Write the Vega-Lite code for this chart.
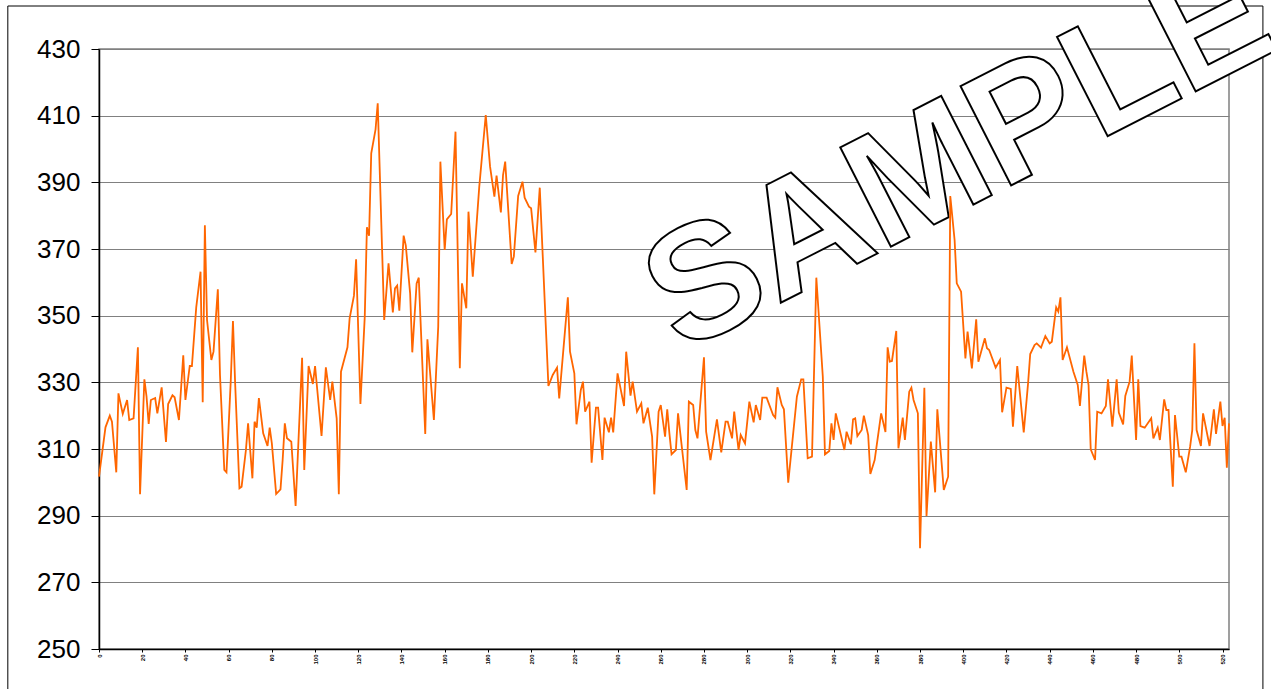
{
"$schema": "https://vega.github.io/schema/vega-lite/v6.json",
"width": 1130, "height": 600,
"autosize": {"type": "none"},
"padding": {"left": 99, "top": 49, "right": 42, "bottom": 40},
"background": "white",
"config": {"view": {"stroke": "#808080", "strokeWidth": 1.5}},
"datasets": {
"series": [
{"i":0,"v":301.7},{"i":3,"v":316.5},{"i":5,"v":320.0},{"i":6,"v":318.2},{"i":8,"v":303.0},{"i":9,"v":326.7},{"i":11,"v":320.5},{"i":13,"v":324.7},{"i":14,"v":318.7},{"i":16,"v":319.2},{"i":18,"v":340.5},{"i":19,"v":296.4},{"i":21,"v":330.9},{"i":22,"v":325.7},{"i":23,"v":317.5},{"i":24,"v":324.7},{"i":26,"v":325.3},{"i":27,"v":320.7},{"i":29,"v":328.5},{"i":31,"v":312.1},{"i":32,"v":323.5},{"i":34,"v":326.1},{"i":35,"v":325.5},{"i":37,"v":318.7},{"i":39,"v":338.1},{"i":40,"v":324.7},{"i":42,"v":334.9},{"i":43,"v":334.9},{"i":45,"v":352.5},{"i":47,"v":363.2},{"i":48,"v":324.0},{"i":49,"v":377.1},{"i":50,"v":348.7},{"i":52,"v":336.7},{"i":53,"v":339.2},{"i":55,"v":357.9},{"i":56,"v":332.2},{"i":58,"v":303.7},{"i":59,"v":303.0},{"i":61,"v":330.7},{"i":62,"v":348.4},{"i":63,"v":329.9},{"i":65,"v":298.2},{"i":66,"v":298.7},{"i":68,"v":309.7},{"i":69,"v":317.7},{"i":71,"v":301.2},{"i":72,"v":318.2},{"i":73,"v":316.4},{"i":74,"v":325.3},{"i":76,"v":314.7},{"i":78,"v":310.9},{"i":79,"v":316.4},{"i":80,"v":311.7},{"i":82,"v":296.5},{"i":84,"v":297.9},{"i":85,"v":306.7},{"i":86,"v":317.7},
{"i":87,"v":313.2},{"i":89,"v":312.2},{"i":91,"v":292.9},{"i":94,"v":337.4},{"i":95,"v":303.7},{"i":97,"v":334.9},{"i":99,"v":329.5},{"i":100,"v":334.9},{"i":103,"v":313.9},{"i":105,"v":334.5},{"i":107,"v":324.7},{"i":108,"v":330.2},{"i":110,"v":319.2},{"i":111,"v":296.4},{"i":112,"v":333.2},{"i":115,"v":340.5},{"i":116,"v":349.2},{"i":118,"v":356.0},{"i":119,"v":366.9},{"i":121,"v":323.5},{"i":123,"v":349.7},{"i":124,"v":376.5},{"i":125,"v":374.0},{"i":126,"v":398.7},{"i":128,"v":405.9},{"i":129,"v":413.7},{"i":132,"v":348.7},{"i":134,"v":365.7},{"i":136,"v":351.0},{"i":137,"v":358.2},{"i":138,"v":359.0},{"i":139,"v":351.5},{"i":141,"v":374.0},{"i":142,"v":371.0},{"i":144,"v":356.7},{"i":145,"v":339.0},{"i":147,"v":359.7},{"i":148,"v":361.4},{"i":151,"v":314.5},{"i":152,"v":342.9},{"i":155,"v":318.7},{"i":157,"v":346.7},{"i":158,"v":396.2},{"i":160,"v":369.7},{"i":161,"v":378.9},{"i":163,"v":380.5},{"i":165,"v":405.2},{"i":167,"v":334.2},{"i":168,"v":359.7},{"i":170,"v":352.2},{"i":171,"v":381.2},{"i":173,"v":361.7},
{"i":176,"v":388.7},{"i":179,"v":410.2},{"i":181,"v":394.7},{"i":183,"v":385.7},{"i":184,"v":392.0},{"i":186,"v":381.0},{"i":187,"v":392.2},{"i":188,"v":396.2},{"i":191,"v":365.5},{"i":192,"v":367.7},{"i":194,"v":385.9},{"i":196,"v":390.2},{"i":197,"v":385.4},{"i":199,"v":382.7},{"i":200,"v":382.2},{"i":202,"v":369.0},{"i":204,"v":388.4},{"i":208,"v":328.9},{"i":210,"v":332.2},{"i":212,"v":334.4},{"i":213,"v":325.2},{"i":217,"v":355.5},{"i":218,"v":339.2},{"i":220,"v":332.7},{"i":221,"v":317.4},{"i":223,"v":327.7},{"i":224,"v":330.2},{"i":225,"v":321.2},{"i":227,"v":324.2},{"i":228,"v":305.9},{"i":230,"v":322.4},{"i":231,"v":322.4},{"i":233,"v":306.7},{"i":234,"v":319.4},{"i":236,"v":315.0},{"i":237,"v":319.4},{"i":238,"v":315.0},{"i":240,"v":332.7},{"i":243,"v":322.9},{"i":244,"v":339.2},{"i":246,"v":326.0},{"i":247,"v":330.2},{"i":249,"v":321.2},{"i":251,"v":323.7},{"i":252,"v":317.7},{"i":254,"v":322.4},{"i":256,"v":313.7},{"i":257,"v":296.4},{"i":259,"v":321.2},{"i":260,"v":323.2},{"i":262,"v":313.7},{"i":263,"v":321.9},
{"i":264,"v":314.7},{"i":265,"v":308.4},{"i":267,"v":309.7},{"i":268,"v":320.7},{"i":272,"v":297.7},{"i":273,"v":324.2},{"i":275,"v":323.2},{"i":276,"v":315.7},{"i":277,"v":313.2},{"i":280,"v":337.5},{"i":281,"v":315.2},{"i":283,"v":306.7},{"i":286,"v":318.9},{"i":288,"v":309.0},{"i":290,"v":318.2},{"i":291,"v":318.2},{"i":293,"v":313.2},{"i":294,"v":321.2},{"i":296,"v":309.7},{"i":297,"v":314.2},{"i":299,"v":311.7},{"i":301,"v":324.2},{"i":303,"v":318.0},{"i":304,"v":323.2},{"i":306,"v":318.7},{"i":307,"v":325.4},{"i":309,"v":325.4},{"i":312,"v":320.2},{"i":313,"v":319.4},{"i":314,"v":328.5},{"i":316,"v":323.2},{"i":317,"v":321.9},{"i":319,"v":299.9},{"i":323,"v":325.7},{"i":325,"v":330.9},{"i":326,"v":330.9},{"i":328,"v":307.2},{"i":330,"v":307.7},{"i":332,"v":361.4},{"i":335,"v":331.7},{"i":336,"v":308.4},{"i":338,"v":309.4},{"i":339,"v":317.7},{"i":340,"v":312.7},{"i":341,"v":320.7},{"i":345,"v":309.7},{"i":346,"v":315.2},{"i":348,"v":311.4},{"i":349,"v":318.9},{"i":350,"v":319.2},
{"i":351,"v":313.9},{"i":353,"v":315.7},{"i":354,"v":320.0},{"i":356,"v":314.2},{"i":357,"v":302.5},{"i":359,"v":306.7},{"i":362,"v":320.7},{"i":364,"v":315.1},{"i":365,"v":340.5},{"i":366,"v":336.2},{"i":367,"v":336.4},{"i":369,"v":345.4},{"i":370,"v":310.2},{"i":372,"v":319.4},{"i":373,"v":312.7},{"i":375,"v":327.2},{"i":376,"v":328.4},{"i":377,"v":324.7},{"i":379,"v":320.7},{"i":380,"v":280.2},{"i":382,"v":328.4},{"i":383,"v":289.9},{"i":385,"v":312.2},{"i":387,"v":297.0},{"i":388,"v":321.9},{"i":391,"v":297.7},{"i":393,"v":301.7},{"i":394,"v":385.9},{"i":396,"v":372.7},{"i":397,"v":359.7},{"i":399,"v":357.2},{"i":401,"v":337.2},{"i":402,"v":345.2},{"i":404,"v":334.2},{"i":406,"v":348.9},{"i":407,"v":336.2},{"i":410,"v":343.2},{"i":411,"v":340.2},{"i":412,"v":339.7},{"i":415,"v":334.4},{"i":417,"v":336.7},{"i":418,"v":321.0},{"i":420,"v":328.4},{"i":422,"v":328.0},{"i":423,"v":316.7},{"i":425,"v":334.9},{"i":428,"v":315.0},{"i":430,"v":329.7},{"i":431,"v":338.5},{"i":433,"v":341.2},{"i":434,"v":341.7},{"i":436,"v":340.4},{"i":438,"v":343.9},
{"i":440,"v":341.7},{"i":441,"v":342.2},{"i":443,"v":352.5},{"i":444,"v":351.2},{"i":445,"v":355.5},{"i":446,"v":336.7},{"i":448,"v":340.5},{"i":451,"v":333.2},{"i":453,"v":329.2},{"i":454,"v":322.9},{"i":456,"v":338.0},{"i":457,"v":333.2},{"i":458,"v":329.2},{"i":459,"v":309.9},{"i":461,"v":306.7},{"i":462,"v":321.2},{"i":464,"v":320.7},{"i":466,"v":322.9},{"i":467,"v":330.9},{"i":469,"v":316.7},{"i":471,"v":330.9},{"i":472,"v":320.9},{"i":474,"v":317.4},{"i":475,"v":325.9},{"i":477,"v":330.2},{"i":478,"v":338.0},{"i":480,"v":312.7},{"i":481,"v":330.9},{"i":482,"v":316.9},{"i":484,"v":316.4},{"i":487,"v":319.2},{"i":488,"v":313.2},{"i":490,"v":316.4},{"i":491,"v":312.7},{"i":493,"v":324.9},{"i":494,"v":321.7},{"i":495,"v":321.7},{"i":497,"v":298.7},{"i":498,"v":320.2},{"i":500,"v":307.7},{"i":501,"v":307.7},{"i":503,"v":303.0},{"i":505,"v":310.7},{"i":506,"v":315.7},{"i":507,"v":341.7},{"i":508,"v":315.7},{"i":510,"v":310.9},{"i":511,"v":320.7},{"i":514,"v":310.9},{"i":516,"v":321.9},{"i":517,"v":314.5},{"i":519,"v":324.2},{"i":520,"v":316.9},{"i":521,"v":319.4},{"i":522,"v":304.4},{"i":523,"v":317.7}
],
"watermark": [{"text": "SAMPLE"}],
"frame": [{"name": "frame"}]
},
"layer": [
{
"data": {"name": "frame"},
"mark": {"type": "rect", "filled": false, "stroke": "black", "strokeWidth": 1, "clip": false},
"encoding": {
"x": {"datum": -42.2, "type": "quantitative", "scale": {"domain": [0, 523], "nice": false, "zero": false}},
"x2": {"datum": 538.7},
"y": {"datum": 442.9, "type": "quantitative", "scale": {"domain": [250, 430], "nice": false, "zero": false}},
"y2": {"datum": 230}
}
},
{
"data": {"name": "watermark"},
"mark": {"type": "text", "angle": 333, "font": "Liberation Sans", "fontWeight": "bold", "fontSize": 162, "fill": "white", "stroke": "black", "strokeWidth": 2, "align": "center", "baseline": "middle", "clip": false},
"encoding": {
"x": {"datum": 398.2, "type": "quantitative", "scale": {"domain": [0, 523], "nice": false, "zero": false}},
"y": {"datum": 397.7, "type": "quantitative", "scale": {"domain": [250, 430], "nice": false, "zero": false}},
"text": {"field": "text"}
}
},
{
"data": {"name": "series"},
"mark": {"type": "line", "color": "#FF6600", "strokeWidth": 1.8, "clip": false},
"encoding": {
"x": {"field": "i", "type": "quantitative", "scale": {"domain": [0, 523], "nice": false, "zero": false},
"axis": {"title": null, "grid": false, "values": [0,10,20,30,40,50,60,70,80,90,100,110,120,130,140,150,160,170,180,190,200,210,220,230,240,250,260,270,280,290,300,310,320,330,340,350,360,370,380,390,400,410,420,430,440,450,460,470,480,490,500,510,520],
"domainColor": "black", "domainWidth": 1.5, "tickColor": "black", "tickSize": 3, "labelAngle": 270, "labelFontSize": 6, "labelFontWeight": "bold", "labelColor": "black", "labelPadding": 2, "labelOverlap": false, "labelFlush": false, "labelFont": "Liberation Sans"}},
"y": {"field": "v", "type": "quantitative", "scale": {"domain": [250, 430], "nice": false, "zero": false},
"axis": {"title": null, "values": [250,270,290,310,330,350,370,390,410,430], "grid": true, "gridColor": "#808080", "gridWidth": 1, "domainColor": "black", "domainWidth": 1.5, "tickColor": "black", "tickSize": 8, "labelFontSize": 26, "labelFont": "Liberation Sans", "labelColor": "black", "labelPadding": 11}}
}
}
]
}
